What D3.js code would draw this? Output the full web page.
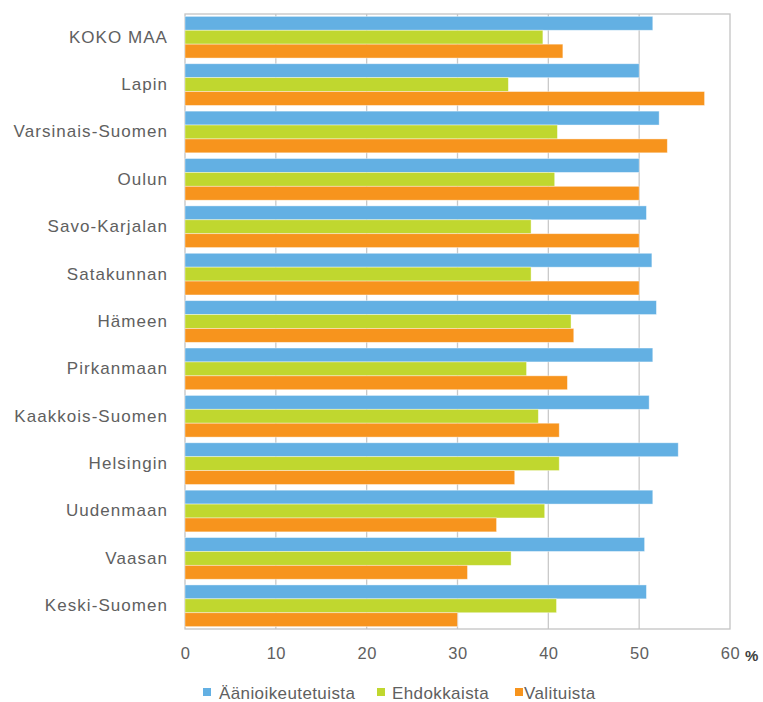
<!DOCTYPE html>
<html><head><meta charset="utf-8">
<script src="https://cdn.jsdelivr.net/npm/d3@7"></script>
<style>body{margin:0;background:#fff}svg{display:block}text{font-family:"Liberation Sans",Arial,sans-serif;fill:#606060}</style>
</head><body><svg id="c" width="763" height="702"></svg>
<script>
const categories = ["KOKO MAA","Lapin","Varsinais-Suomen","Oulun","Savo-Karjalan","Satakunnan","Hämeen","Pirkanmaan","Kaakkois-Suomen","Helsingin","Uudenmaan","Vaasan","Keski-Suomen"];
const seriesNames = ["Äänioikeutetuista","Ehdokkaista","Valituista"];
const aanioikeutetuista = [51.5,50.0,52.2,50.0,50.8,51.4,51.9,51.5,51.1,54.3,51.5,50.6,50.8];
const ehdokkaista = [39.4,35.6,41.0,40.7,38.1,38.1,42.5,37.6,38.9,41.2,39.6,35.9,40.9];
const valituista = [41.6,57.2,53.1,50.0,50.0,50.0,42.8,42.1,41.2,36.3,34.3,31.1,30.0];
const xTicks = [0,10,20,30,40,50,60];
const colors = ["#63b0e3","#c0d72f","#f7941d"];

const seriesValues = [aanioikeutetuista, ehdokkaista, valituista];
const svg = d3.select("#c");
const L = 185, R = 730, T = 14, B = 629;
const x = d3.scaleLinear().domain([0,60]).range([L,R]);
const y = d3.scaleBand().domain(categories).range([T,B]).paddingInner(0.12).paddingOuter(0.05);
const ySub = d3.scaleBand().domain(seriesNames).range([0,y.bandwidth()]);

// gridlines
svg.append("g").selectAll("line").data(xTicks.slice(1,-1)).join("line")
  .attr("x1",d=>x(d)).attr("x2",d=>x(d)).attr("y1",T).attr("y2",B)
  .attr("stroke","#c9c9c9").attr("stroke-width",1.3);
// border
svg.append("rect").attr("x",L).attr("y",T).attr("width",R-L).attr("height",B-T)
  .attr("fill","none").attr("stroke","#c4c4c4").attr("stroke-width",1.3);

// bars
const g = svg.append("g");
categories.forEach((c,i)=>{
  seriesNames.forEach((s,j)=>{
    g.append("rect").attr("x",x(0)).attr("y",y(c)+ySub(s))
     .attr("width",x(seriesValues[j][i])-x(0)).attr("height",ySub.bandwidth())
     .attr("fill",colors[j]).attr("stroke","#ffffff").attr("stroke-opacity",0.5).attr("stroke-width",0.8);
  });
});

// y labels
const yAxis = d3.axisLeft(y).tickSize(0).tickPadding(17);
const ya = svg.append("g").attr("transform",`translate(${L},0)`).call(yAxis);
ya.select(".domain").remove();
ya.selectAll("text").style("font-size","17px").style("letter-spacing","1.05px").style("fill","#606060").style("font-family","Liberation Sans, Arial, sans-serif");

// x axis
const xAxis = d3.axisBottom(x).tickValues(xTicks).tickSize(0).tickPadding(18);
const xa = svg.append("g").attr("transform",`translate(0,${B})`).call(xAxis);
xa.select(".domain").remove();
xa.selectAll("text").style("font-size","16.5px").style("letter-spacing","0.5px").style("fill","#606060").style("font-family","Liberation Sans, Arial, sans-serif");
svg.append("text").attr("x",745).attr("y",661).text("%")
  .style("font-size","15px").style("font-weight","bold").style("fill","#404040");

// legend
const legX = [203,377,515];
const legGap = [16,15,9];
const leg = svg.append("g");
seriesNames.forEach((s,j)=>{
  leg.append("rect").attr("x",legX[j]).attr("y",688).attr("width",8).attr("height",8).attr("fill",colors[j]);
  leg.append("text").attr("x",legX[j]+legGap[j]).attr("y",698.5).text(s).style("font-size","17px").style("letter-spacing","0.4px");
});
</script></body></html>
